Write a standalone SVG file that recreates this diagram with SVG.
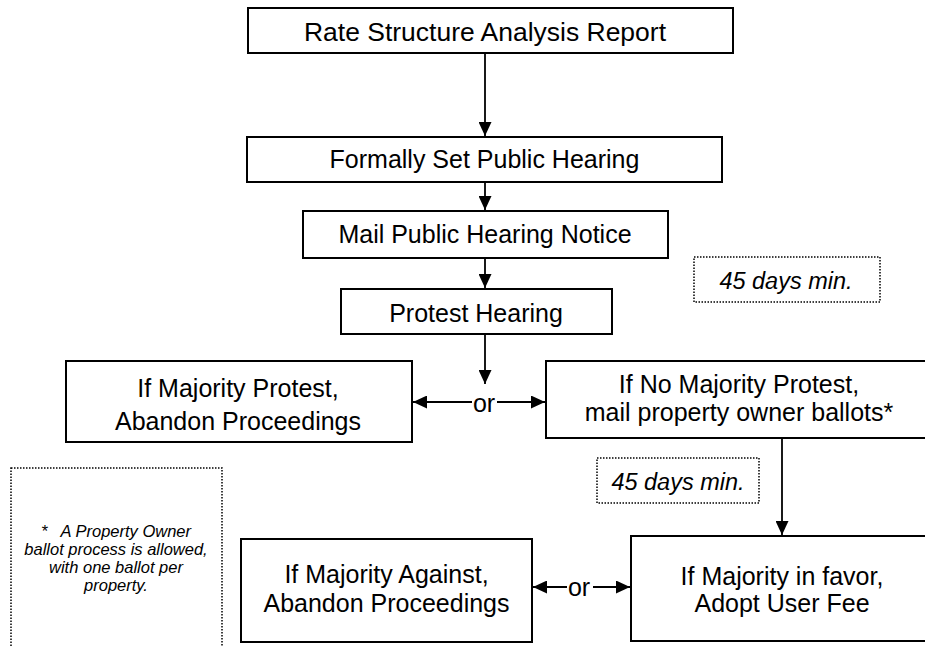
<svg xmlns="http://www.w3.org/2000/svg" width="925" height="647" viewBox="0 0 925 647">
<defs>
<style>
.box{fill:#fff;stroke:#000;stroke-width:2}
.note{fill:#fff;stroke:#000;stroke-width:1.5;stroke-dasharray:1.5 1.5}
.t{font-family:"Liberation Sans",Arial,sans-serif;font-size:25px;fill:#000;text-anchor:middle}
.i{font-family:"Liberation Sans",Arial,sans-serif;font-style:italic;font-size:23.5px;fill:#000;text-anchor:middle}
.f{font-family:"Liberation Sans",Arial,sans-serif;font-style:italic;font-size:16.5px;fill:#000;text-anchor:middle;white-space:pre}
.c{fill:none;stroke:#000;stroke-width:1.8}
</style>
<marker id="ah" viewBox="0 0 14 13" refX="14" refY="6.5" markerWidth="14" markerHeight="13" markerUnits="userSpaceOnUse" orient="auto-start-reverse">
<path d="M0,0 L14,6.5 L0,13 z" fill="#000"/>
</marker>
</defs>
<rect width="925" height="647" fill="#fff"/>

<g id="connectors">
<line class="c" x1="485" y1="53" x2="485" y2="136" marker-end="url(#ah)"/>
<line class="c" x1="485" y1="182" x2="485" y2="210" marker-end="url(#ah)"/>
<line class="c" x1="485" y1="258" x2="485" y2="288" marker-end="url(#ah)"/>
<line class="c" x1="485" y1="334" x2="485" y2="384" marker-end="url(#ah)"/>
<line class="c" x1="472" y1="402" x2="413" y2="402" marker-end="url(#ah)"/>
<line class="c" x1="497" y1="402" x2="545" y2="402" marker-end="url(#ah)"/>
<text class="t" x="484" y="412">or</text>
<line class="c" x1="782" y1="438" x2="782" y2="535" marker-end="url(#ah)"/>
<line class="c" x1="567" y1="587" x2="533" y2="587" marker-end="url(#ah)"/>
<line class="c" x1="593" y1="587" x2="630" y2="587" marker-end="url(#ah)"/>
<text class="t" x="579" y="596">or</text>
</g>

<g id="n1">
<rect class="box" x="248" y="8" width="485" height="45"/>
<text class="t" x="485" y="41" textLength="362" lengthAdjust="spacingAndGlyphs">Rate Structure Analysis Report</text>
</g>
<g id="n2">
<rect class="box" x="247" y="137" width="475" height="45"/>
<text class="t" x="484.5" y="168">Formally Set Public Hearing</text>
</g>
<g id="n3">
<rect class="box" x="303" y="211" width="365" height="47"/>
<text class="t" x="485" y="243">Mail Public Hearing Notice</text>
</g>
<g id="n4">
<rect class="box" x="341" y="289" width="271" height="45"/>
<text class="t" x="476" y="322">Protest Hearing</text>
</g>
<g id="note1">
<rect class="note" x="694" y="257" width="186" height="45"/>
<text class="i" x="786" y="289">45 days min.</text>
</g>
<g id="n5">
<rect class="box" x="66" y="361" width="346" height="81"/>
<text class="t" x="238" y="397">If Majority Protest,</text>
<text class="t" x="238" y="430">Abandon Proceedings</text>
</g>
<g id="n6">
<rect class="box" x="546" y="361" width="386" height="77"/>
<text class="t" x="739" y="393">If No Majority Protest,</text>
<text class="t" x="739" y="421">mail property owner ballots*</text>
</g>
<g id="note2">
<rect class="note" x="597" y="458" width="162" height="45"/>
<text class="i" x="678" y="490">45 days min.</text>
</g>
<g id="footnote">
<rect class="note" x="11" y="468" width="211" height="190"/>
<text class="f" x="116" y="537">*   A Property Owner</text>
<text class="f" x="116" y="555">ballot process is allowed,</text>
<text class="f" x="116" y="573">with one ballot per</text>
<text class="f" x="116" y="591">property.</text>
</g>
<g id="n7">
<rect class="box" x="241" y="539" width="291" height="103"/>
<text class="t" x="386.5" y="583">If Majority Against,</text>
<text class="t" x="386.5" y="612">Abandon Proceedings</text>
</g>
<g id="n8">
<rect class="box" x="631" y="536" width="301" height="105"/>
<text class="t" x="782" y="585">If Majority in favor,</text>
<text class="t" x="782" y="612">Adopt User Fee</text>
</g>
</svg>
